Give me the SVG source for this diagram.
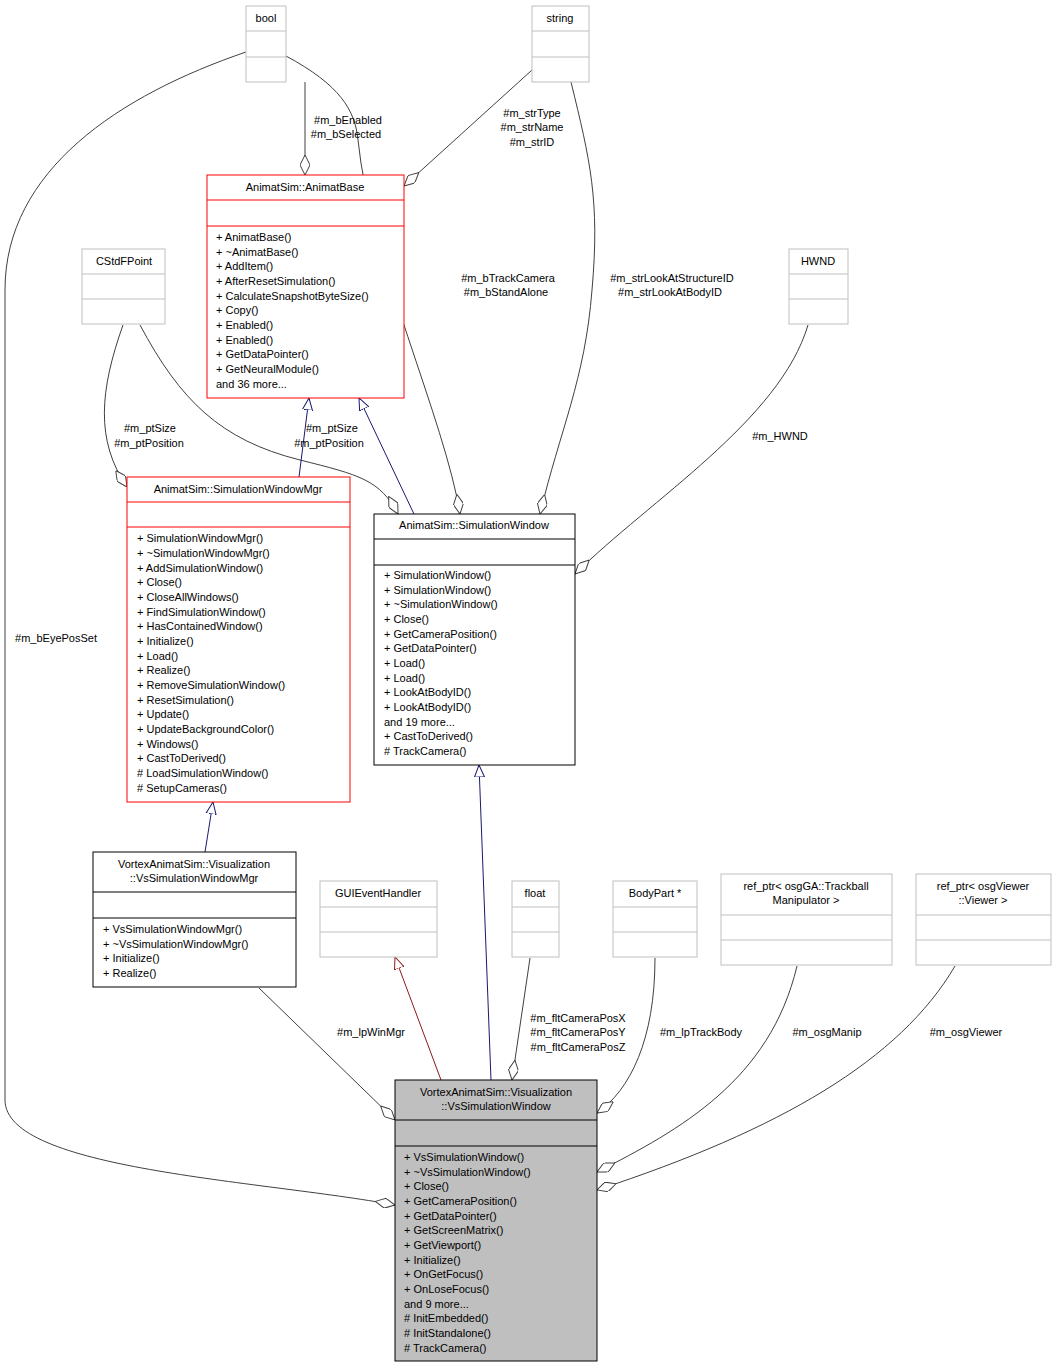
<svg xmlns="http://www.w3.org/2000/svg" width="1057" height="1368" viewBox="0 0 1057 1368">
<defs>
<marker id="dia" viewBox="0 0 20 10" refX="20" refY="5" markerWidth="20" markerHeight="10" markerUnits="userSpaceOnUse" orient="auto"><path d="M0,5 L10,0 L20,5 L10,10 Z" fill="#fff" stroke="#404040"/></marker>
<marker id="triB" viewBox="0 0 12 12" refX="12" refY="6" markerWidth="12" markerHeight="12" markerUnits="userSpaceOnUse" orient="auto"><path d="M0,1 L12,6 L0,11 Z" fill="#fff" stroke="#191970"/></marker>
<marker id="triR" viewBox="0 0 12 12" refX="12" refY="6" markerWidth="12" markerHeight="12" markerUnits="userSpaceOnUse" orient="auto"><path d="M0,1 L12,6 L0,11 Z" fill="#fff" stroke="#8b1a1a"/></marker>
</defs>
<style>
text{font-family:"Liberation Sans","DejaVu Sans",sans-serif;font-size:11px;fill:#000}
.c{text-anchor:middle}
.g rect,.g line{fill:#fff;stroke:#bfbfbf}
.r rect,.r line{fill:#fff;stroke:#ff0000}
.k rect,.k line{fill:#fff;stroke:#000}
.m rect,.m line{fill:#bfbfbf;stroke:#000}
.e path{fill:none;stroke:#404040}
.e .b{stroke:#191970}
.e .rd{stroke:#8b1a1a}
</style>
<rect width="1057" height="1368" fill="#fff"/>
<g class="e">
<path d="M246,52 C120,95 5,170 5,290 L5,1100 C5,1170 260,1180 395,1205" marker-end="url(#dia)"/>
<path d="M305,82 L305,175" marker-end="url(#dia)"/>
<path d="M286,56 C340,85 355,110 358,140 C370,260 445,420 460,514" marker-end="url(#dia)"/>
<path d="M532,70 L404,186" marker-end="url(#dia)"/>
<path d="M571,82 C590,160 600,200 592,290 C585,380 560,430 540,514" marker-end="url(#dia)"/>
<path d="M123,325 C100,390 95,440 127,487" marker-end="url(#dia)"/>
<path d="M140,325 C180,400 220,440 300,460 C360,475 380,480 398,514" marker-end="url(#dia)"/>
<path d="M808,325 C780,420 650,500 575,574" marker-end="url(#dia)"/>
<path class="b" d="M299,477 L309,398" marker-end="url(#triB)"/>
<path class="b" d="M414,514 L359,398" marker-end="url(#triB)"/>
<path class="b" d="M205,852 L213,802" marker-end="url(#triB)"/>
<path class="b" d="M491,1080 L479,765" marker-end="url(#triB)"/>
<path class="rd" d="M441,1080 L395,957" marker-end="url(#triR)"/>
<path d="M259,988 L395,1120" marker-end="url(#dia)"/>
<path d="M530,958 L512,1080" marker-end="url(#dia)"/>
<path d="M655,958 C655,1040 630,1090 597,1113" marker-end="url(#dia)"/>
<path d="M797,966 C770,1080 680,1130 597,1172" marker-end="url(#dia)"/>
<path d="M955,966 C900,1060 780,1130 597,1190" marker-end="url(#dia)"/>
</g>
<g id="labels">
<text x="348" y="124" class="c">#m_bEnabled</text>
<text x="346" y="138" class="c">#m_bSelected</text>
<text x="532" y="117" class="c">#m_strType</text>
<text x="532" y="131" class="c">#m_strName</text>
<text x="532" y="146" class="c">#m_strID</text>
<text x="508" y="282" class="c">#m_bTrackCamera</text>
<text x="506" y="296" class="c">#m_bStandAlone</text>
<text x="672" y="282" class="c">#m_strLookAtStructureID</text>
<text x="670" y="296" class="c">#m_strLookAtBodyID</text>
<text x="780" y="440" class="c">#m_HWND</text>
<text x="150" y="432" class="c">#m_ptSize</text>
<text x="149" y="447" class="c">#m_ptPosition</text>
<text x="332" y="432" class="c">#m_ptSize</text>
<text x="329" y="447" class="c">#m_ptPosition</text>
<text x="56" y="642" class="c">#m_bEyePosSet</text>
<text x="371" y="1036" class="c">#m_lpWinMgr</text>
<text x="578" y="1022" class="c">#m_fltCameraPosX</text>
<text x="578" y="1036" class="c">#m_fltCameraPosY</text>
<text x="578" y="1051" class="c">#m_fltCameraPosZ</text>
<text x="701" y="1036" class="c">#m_lpTrackBody</text>
<text x="827" y="1036" class="c">#m_osgManip</text>
<text x="966" y="1036" class="c">#m_osgViewer</text>
</g>
<g id="bool" class="g"><rect x="246" y="6" width="40" height="76"/><line x1="246" y1="31" x2="286" y2="31"/><line x1="246" y1="57" x2="286" y2="57"/><text x="266" y="22" class="c">bool</text></g>
<g id="string" class="g"><rect x="532" y="6" width="57" height="76"/><line x1="532" y1="31" x2="589" y2="31"/><line x1="532" y1="57" x2="589" y2="57"/><text x="560" y="22" class="c">string</text></g>
<g id="CStdFPoint" class="g"><rect x="82" y="249" width="83" height="75"/><line x1="82" y1="274" x2="165" y2="274"/><line x1="82" y1="299" x2="165" y2="299"/><text x="124" y="265" class="c">CStdFPoint</text></g>
<g id="HWND" class="g"><rect x="789" y="249" width="59" height="75"/><line x1="789" y1="274" x2="848" y2="274"/><line x1="789" y1="299" x2="848" y2="299"/><text x="818" y="265" class="c">HWND</text></g>
<g id="AnimatBase" class="r"><rect x="207" y="175" width="197" height="223"/><line x1="207" y1="200" x2="404" y2="200"/><line x1="207" y1="226" x2="404" y2="226"/>
<text x="305" y="191" class="c">AnimatSim::AnimatBase</text>
<text x="216" y="241">+ AnimatBase()</text><text x="216" y="256">+ ~AnimatBase()</text><text x="216" y="270">+ AddItem()</text><text x="216" y="285">+ AfterResetSimulation()</text><text x="216" y="300">+ CalculateSnapshotByteSize()</text><text x="216" y="314">+ Copy()</text><text x="216" y="329">+ Enabled()</text><text x="216" y="344">+ Enabled()</text><text x="216" y="358">+ GetDataPointer()</text><text x="216" y="373">+ GetNeuralModule()</text><text x="216" y="388">and 36 more...</text></g>
<g id="SimulationWindowMgr" class="r"><rect x="127" y="477" width="223" height="325"/><line x1="127" y1="502" x2="350" y2="502"/><line x1="127" y1="527" x2="350" y2="527"/>
<text x="238" y="493" class="c">AnimatSim::SimulationWindowMgr</text>
<text x="137" y="542">+ SimulationWindowMgr()</text><text x="137" y="557">+ ~SimulationWindowMgr()</text><text x="137" y="572">+ AddSimulationWindow()</text><text x="137" y="586">+ Close()</text><text x="137" y="601">+ CloseAllWindows()</text><text x="137" y="616">+ FindSimulationWindow()</text><text x="137" y="630">+ HasContainedWindow()</text><text x="137" y="645">+ Initialize()</text><text x="137" y="660">+ Load()</text><text x="137" y="674">+ Realize()</text><text x="137" y="689">+ RemoveSimulationWindow()</text><text x="137" y="704">+ ResetSimulation()</text><text x="137" y="718">+ Update()</text><text x="137" y="733">+ UpdateBackgroundColor()</text><text x="137" y="748">+ Windows()</text><text x="137" y="762">+ CastToDerived()</text><text x="137" y="777"># LoadSimulationWindow()</text><text x="137" y="792"># SetupCameras()</text></g>
<g id="SimulationWindow" class="k"><rect x="374" y="514" width="201" height="251"/><line x1="374" y1="539" x2="575" y2="539"/><line x1="374" y1="565" x2="575" y2="565"/>
<text x="474" y="529" class="c">AnimatSim::SimulationWindow</text>
<text x="384" y="579">+ SimulationWindow()</text><text x="384" y="594">+ SimulationWindow()</text><text x="384" y="608">+ ~SimulationWindow()</text><text x="384" y="623">+ Close()</text><text x="384" y="638">+ GetCameraPosition()</text><text x="384" y="652">+ GetDataPointer()</text><text x="384" y="667">+ Load()</text><text x="384" y="682">+ Load()</text><text x="384" y="696">+ LookAtBodyID()</text><text x="384" y="711">+ LookAtBodyID()</text><text x="384" y="726">and 19 more...</text><text x="384" y="740">+ CastToDerived()</text><text x="384" y="755"># TrackCamera()</text></g>
<g id="VsSimulationWindowMgr" class="k"><rect x="93" y="852" width="203" height="135"/><line x1="93" y1="892" x2="296" y2="892"/><line x1="93" y1="918" x2="296" y2="918"/>
<text x="194" y="868" class="c">VortexAnimatSim::Visualization</text><text x="194" y="882" class="c">::VsSimulationWindowMgr</text>
<text x="103" y="933">+ VsSimulationWindowMgr()</text><text x="103" y="948">+ ~VsSimulationWindowMgr()</text><text x="103" y="962">+ Initialize()</text><text x="103" y="977">+ Realize()</text></g>
<g id="GUIEventHandler" class="g"><rect x="320" y="881" width="117" height="76"/><line x1="320" y1="907" x2="437" y2="907"/><line x1="320" y1="932" x2="437" y2="932"/><text x="378" y="897" class="c">GUIEventHandler</text></g>
<g id="float" class="g"><rect x="512" y="881" width="47" height="76"/><line x1="512" y1="907" x2="559" y2="907"/><line x1="512" y1="932" x2="559" y2="932"/><text x="535" y="897" class="c">float</text></g>
<g id="BodyPart" class="g"><rect x="613" y="881" width="84" height="76"/><line x1="613" y1="907" x2="697" y2="907"/><line x1="613" y1="932" x2="697" y2="932"/><text x="655" y="897" class="c">BodyPart *</text></g>
<g id="Trackball" class="g"><rect x="721" y="874" width="171" height="91"/><line x1="721" y1="915" x2="892" y2="915"/><line x1="721" y1="940" x2="892" y2="940"/><text x="806" y="890" class="c">ref_ptr&lt; osgGA::Trackball</text><text x="806" y="904" class="c">Manipulator &gt;</text></g>
<g id="Viewer" class="g"><rect x="916" y="874" width="135" height="91"/><line x1="916" y1="915" x2="1051" y2="915"/><line x1="916" y1="940" x2="1051" y2="940"/><text x="983" y="890" class="c">ref_ptr&lt; osgViewer</text><text x="983" y="904" class="c">::Viewer &gt;</text></g>
<g id="VsSimulationWindow" class="m"><rect x="395" y="1080" width="202" height="281"/><line x1="395" y1="1120" x2="597" y2="1120"/><line x1="395" y1="1146" x2="597" y2="1146"/>
<text x="496" y="1096" class="c">VortexAnimatSim::Visualization</text><text x="496" y="1110" class="c">::VsSimulationWindow</text>
<text x="404" y="1161">+ VsSimulationWindow()</text><text x="404" y="1176">+ ~VsSimulationWindow()</text><text x="404" y="1190">+ Close()</text><text x="404" y="1205">+ GetCameraPosition()</text><text x="404" y="1220">+ GetDataPointer()</text><text x="404" y="1234">+ GetScreenMatrix()</text><text x="404" y="1249">+ GetViewport()</text><text x="404" y="1264">+ Initialize()</text><text x="404" y="1278">+ OnGetFocus()</text><text x="404" y="1293">+ OnLoseFocus()</text><text x="404" y="1308">and 9 more...</text><text x="404" y="1322"># InitEmbedded()</text><text x="404" y="1337"># InitStandalone()</text><text x="404" y="1352"># TrackCamera()</text></g>
</svg>
